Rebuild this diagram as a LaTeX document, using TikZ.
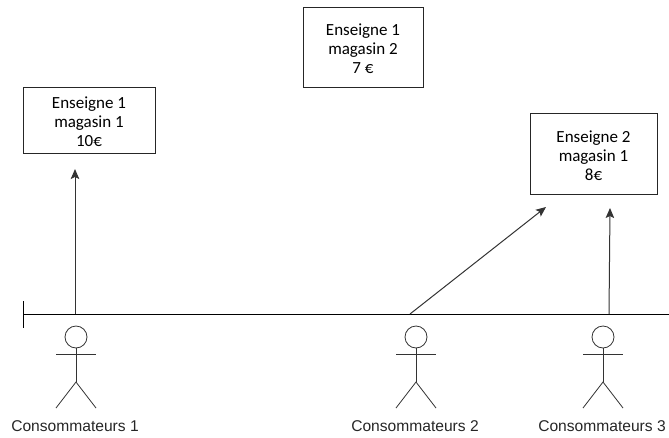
\documentclass[tikz,border=0pt]{standalone}
\usepackage{fontspec}
\setmainfont{Liberation Sans}
\newfontfamily\boxfont{Carlito}
\usetikzlibrary{arrows.meta}
\newcommand{\shopdrop}{\rule{0pt}{15.5pt}}
\tikzset{
  shop/.style={draw=black!85,line width=1pt,fill=white,rectangle,inner sep=0pt,align=center,font=\boxfont\fontsize{17}{19}\selectfont},
  lbl/.style={font=\fontsize{15.6}{18}\selectfont,text=black!85,inner sep=0pt},
  tl/.style={line width=1pt,draw=black},
  link/.style={line width=1pt,draw=black!80,-{Stealth[length=10pt,width=8.5pt,inset=2pt]}},
  stick/.style={line width=.8pt,draw=black!80},
  head/.style={circle,draw=black!80,line width=.8pt,minimum size=22pt,inner sep=0pt},
}
\begin{document}
\begin{tikzpicture}[x=1pt,y=-1pt]
\useasboundingbox (0,0) rectangle (669,437);
% boxes
\node[shop,minimum width=132pt,minimum height=66pt] (b1) at (89,120) {\shopdrop Enseigne 1\\magasin 1\\10€};
\node[shop,minimum width=120pt,minimum height=80pt] (b2) at (363,47) {\shopdrop Enseigne 1\\magasin 2\\7 €};
\node[shop,minimum width=127pt,minimum height=81pt] (b3) at (593.5,153.5) {\shopdrop Enseigne 2\\magasin 1\\8€};
% timeline
\coordinate (t0) at (23,314);
\coordinate (t1) at (669,314);
\coordinate (tu) at (23,301);
\coordinate (td) at (23,328);
\draw[tl] (t0) -- (t1);
\draw[tl] (tu) -- (td);
% arrows
\coordinate (s1) at (75,314);
\coordinate (e1) at (75,169);
\coordinate (s2) at (410,314);
\coordinate (e2) at (546,207);
\coordinate (s3) at (609,314);
\coordinate (e3) at (610,208);
\draw[link] (s1) -- (e1);
\draw[link] (s2) -- (e2);
\draw[link] (s3) -- (e3);
% actors
\foreach \n/\x/\t in {a/76/Consommateurs 1,c/416/Consommateurs 2,d/603/Consommateurs 3}{
  \node[head] (\n h) at (\x,337) {};
  \coordinate (\n hip) at (\x,382);
  \coordinate (\n la) at (\x-20,354);
  \coordinate (\n ra) at (\x+20,354);
  \coordinate (\n ll) at (\x-20,408);
  \coordinate (\n rl) at (\x+20,408);
  \draw[stick] (\n h.south) -- (\n hip);
  \draw[stick] (\n la) -- (\n ra);
  \draw[stick] (\n ll) -- (\n hip) -- (\n rl);
  \node[lbl] (\n l) at (\x-1,426) {\t};
}
\end{tikzpicture}
\end{document}
